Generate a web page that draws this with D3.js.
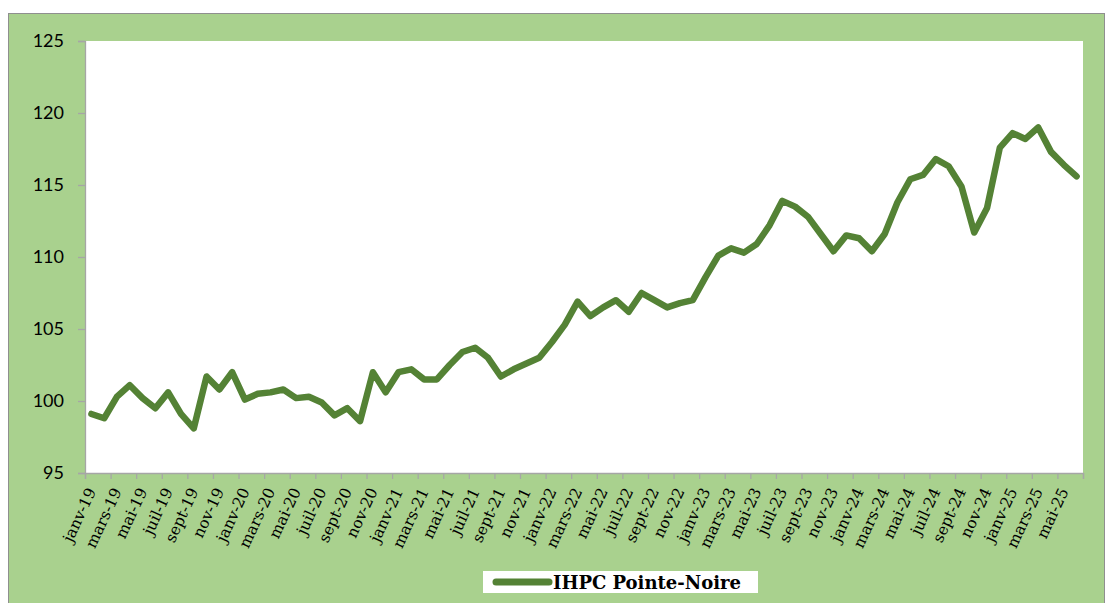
<!DOCTYPE html>
<html>
<head>
<meta charset="utf-8">
<script src="https://cdn.jsdelivr.net/npm/d3@7"></script>
<style>
  body { margin: 0; background: #ffffff; }
  svg { display: block; }
</style>
</head>
<body>
<svg id="chart"></svg>
<script>
// month labels (French abbreviations as on the axis) and years covered
const monthNames = ['janv', 'févr', 'mars', 'avr', 'mai', 'juin', 'juil', 'août', 'sept', 'oct', 'nov', 'déc'];
const years = ['19', '20', '21', '22', '23', '24', '25'];
const lastMonthCount = 6; // 2025 stops at juin

// IHPC Pointe-Noire, janv-19 .. juin-25
const ihpc = [
  99.1, 98.8, 100.3, 101.1, 100.2, 99.5, 100.6, 99.1, 98.1, 101.7, 100.8, 102.0,
  100.1, 100.5, 100.6, 100.8, 100.2, 100.3, 99.9, 99.0, 99.5, 98.6, 102.0, 100.6,
  102.0, 102.2, 101.5, 101.5, 102.5, 103.4, 103.7, 103.0, 101.7, 102.2, 102.6, 103.0,
  104.1, 105.3, 106.9, 105.9, 106.5, 107.0, 106.2, 107.5, 107.0, 106.5, 106.8, 107.0,
  108.6, 110.1, 110.6, 110.3, 110.9, 112.2, 113.9, 113.5, 112.8, 111.6, 110.4, 111.5,
  111.3, 110.4, 111.6, 113.8, 115.4, 115.7, 116.8, 116.3, 114.9, 111.7, 113.4, 117.6,
  118.6, 118.2, 119.0, 117.3, 116.4, 115.6
];
const yTicks = [95, 100, 105, 110, 115, 120, 125];
const seriesName = 'IHPC Pointe-Noire';

const categories = [];
years.forEach((yy, yi) => {
  const n = yi === years.length - 1 ? lastMonthCount : 12;
  for (let m = 0; m < n; m++) categories.push(`${monthNames[m]}-${yy}`);
});
const __data__ = categories.map((c, i) => ({ cat: c, value: ihpc[i] }));

// build
const width = 1106;
const height = 603;
const plot = { left: 85, right: 1083, top: 41, bottom: 473 };

const svg = d3.select('#chart')
  .attr('width', width)
  .attr('height', height);

// outer green panel
svg.append('rect')
  .attr('x', 8.5).attr('y', 13.5)
  .attr('width', 1096).attr('height', 600)
  .attr('fill', '#a9d18e')
  .attr('stroke', '#8f8f8f')
  .attr('stroke-width', 1);

// white plot area
svg.append('rect')
  .attr('x', plot.left).attr('y', plot.top)
  .attr('width', plot.right - plot.left).attr('height', plot.bottom - plot.top)
  .attr('fill', '#ffffff');

const xScale = d3.scaleBand()
  .domain(categories)
  .range([plot.left, plot.right])
  .padding(0);

const yScale = d3.scaleLinear()
  .domain([95, 125])
  .range([plot.bottom, plot.top]);

// y axis
const yAxis = svg.append('g')
  .attr('transform', `translate(${plot.left}, 0)`)
  .call(d3.axisLeft(yScale).tickValues(yTicks).tickSize(7).tickPadding(14));
yAxis.select('.domain').attr('stroke', '#a6a6a6').attr('stroke-width', 1.3);
yAxis.selectAll('.tick line').attr('stroke', '#a6a6a6').attr('stroke-width', 1.3);
yAxis.selectAll('.tick text')
  .attr('fill', '#000')
  .style('font-family', 'Lato, "Open Sans", sans-serif')
  .style('font-size', '18px');

// x axis tick marks at category boundaries, every 2 months
const idxScale = d3.scaleLinear().domain([0, categories.length]).range([plot.left, plot.right]);
const tickIdx = d3.range(0, categories.length + 1, 2);
const xTicks = svg.append('g')
  .attr('transform', `translate(0, ${plot.bottom})`)
  .call(d3.axisBottom(idxScale).tickValues(tickIdx).tickSize(6).tickFormat(''));
xTicks.select('.domain').attr('stroke', '#a6a6a6').attr('stroke-width', 1.3);
xTicks.selectAll('.tick line').attr('stroke', '#a6a6a6').attr('stroke-width', 1.3);

// x labels, every second month, rotated
const labelCats = categories.filter((c, i) => i % 2 === 0);
const xLabels = svg.append('g')
  .attr('transform', `translate(0, ${plot.bottom})`)
  .call(d3.axisBottom(xScale).tickValues(labelCats).tickSize(0));
xLabels.select('.domain').remove();
xLabels.selectAll('.tick text')
  .attr('fill', '#000')
  .style('font-family', '"DejaVu Serif", serif')
  .style('font-size', '15.5px')
  .attr('text-anchor', 'end')
  .attr('x', 0).attr('y', 0).attr('dy', 0)
  .attr('transform', 'translate(5, 18) rotate(-65)');

// line
const line = d3.line()
  .x(d => xScale(d.cat) + xScale.bandwidth() / 2)
  .y(d => yScale(d.value));

svg.append('path')
  .datum(__data__)
  .attr('d', line)
  .attr('fill', 'none')
  .attr('stroke', '#548235')
  .attr('stroke-width', 6.5)
  .attr('stroke-linejoin', 'round')
  .attr('stroke-linecap', 'round');

// legend
const legend = svg.append('g');
legend.append('rect')
  .attr('x', 483).attr('y', 571)
  .attr('width', 275).attr('height', 22)
  .attr('fill', '#ffffff');
legend.append('line')
  .attr('x1', 496).attr('x2', 549)
  .attr('y1', 582).attr('y2', 582)
  .attr('stroke', '#548235')
  .attr('stroke-width', 7)
  .attr('stroke-linecap', 'round');
legend.append('text')
  .attr('x', 553).attr('y', 588.5)
  .style('font-family', '"DejaVu Serif", serif')
  .style('font-weight', 'bold')
  .style('font-size', '18px')
  .attr('fill', '#000')
  .text(seriesName);
</script>
</body>
</html>
